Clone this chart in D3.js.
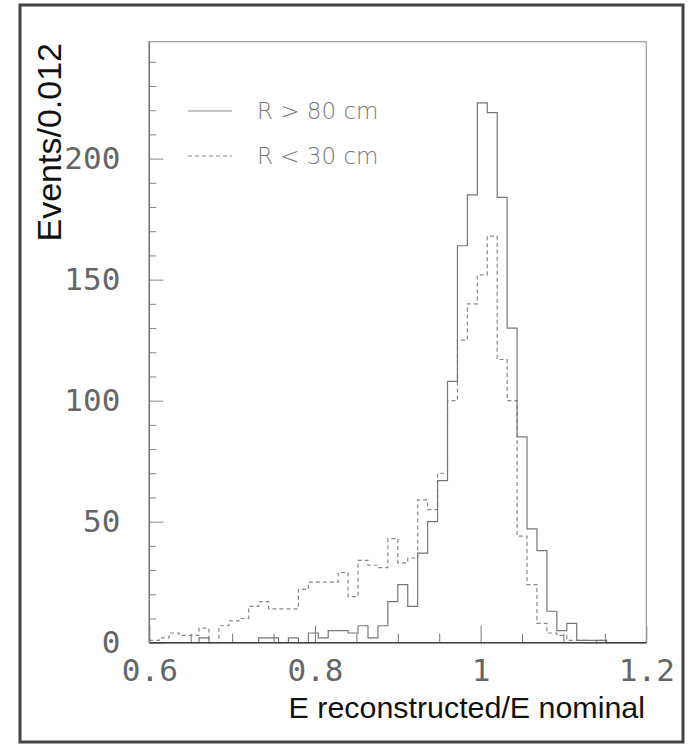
<!DOCTYPE html>
<html><head><meta charset="utf-8">
<script src="https://cdn.jsdelivr.net/npm/d3@7"></script>
<style>body{margin:0;background:#fff}svg{display:block}</style>
</head><body>
<svg id="c" width="694" height="747"></svg>
<script>
// Bin settings: 50 bins of width 0.012 from 0.6 to 1.2
const binStart = 0.6;
const binWidth = 0.012;
// R > 80 cm (solid)
const solidCounts = [0,0,0,0,0,2,0,0,0,0, 0,2,2,0,2,0,4,2,5,5, 4,7,2,7,17,24,15,37,50,67, 108,164,185,223,219,184,130,85,47,38, 13,5,8,1,1,1,0,0,0,0];
// R < 30 cm (dashed)
const dashedCounts = [1,2,4,3,3,6,0,7,9,10, 15,17,14,14,14,22,25,25,25,29, 19,34,32,31,43,33,35,59,55,70, 100,125,140,152,168,117,100,44,24,8, 4,3,1,1,0,1,0,0,0,0];
const xMajorTicks = [0.6, 0.8, 1.0, 1.2];
const xTickLabels = ["0.6", "0.8", "1", "1.2"];
const xMinorTicks = [0.65,0.7,0.75,0.85,0.9,0.95,1.05,1.1,1.15];
const yMajorTicks = [0, 50, 100, 150, 200];
const yTickLabels = ["0", "50", "100", "150", "200"];
const yMinorTicks = [10,20,30,40,60,70,80,90,110,120,130,140,160,170,180,190,210,220,230,240];
const legendLabels = ["R > 80 cm", "R < 30 cm"];
const xTitle = "E reconstructed/E nominal";
const yTitle = "Events/0.012";

const svg = d3.select("#c");
const L = 149.3, R = 646.3, T = 41.7, B = 642.7;
const x = d3.scaleLinear().domain([0.6, 1.2]).range([L, R]);
const y = d3.scaleLinear().domain([0, 248.3]).range([B, T]);

// outer border
svg.append("rect").attr("x", 20).attr("y", 5).attr("width", 663).attr("height", 737)
  .attr("fill", "none").attr("stroke", "#444").attr("stroke-width", 3);

const tickFont = "'DejaVu Sans Mono', monospace";
const tickColor = "#666";

// x axis minor ticks
svg.append("g").attr("transform", `translate(0,${B})`)
  .call(d3.axisBottom(x).tickValues(xMinorTicks).tickSizeInner(-9).tickSizeOuter(0).tickFormat(""))
  .call(g => g.select(".domain").remove())
  .call(g => g.selectAll("line").attr("stroke", "#777"));
// x axis major
const xFmt = d => xTickLabels[xMajorTicks.indexOf(d)];
svg.append("g").attr("transform", `translate(0,${B})`)
  .call(d3.axisBottom(x).tickValues(xMajorTicks).tickSizeInner(-17).tickSizeOuter(0).tickPadding(16).tickFormat(xFmt))
  .call(g => g.select(".domain").remove())
  .call(g => g.selectAll("line").attr("stroke", "#777"))
  .call(g => g.selectAll("text").attr("font-family", tickFont).attr("font-size", 31).attr("fill", tickColor));

// y axis minor
svg.append("g").attr("transform", `translate(${L},0)`)
  .call(d3.axisLeft(y).tickValues(yMinorTicks).tickSizeInner(-7).tickSizeOuter(0).tickFormat(""))
  .call(g => g.select(".domain").remove())
  .call(g => g.selectAll("line").attr("stroke", "#888"));
const yFmt = d => yTickLabels[yMajorTicks.indexOf(d)];
svg.append("g").attr("transform", `translate(${L},0)`)
  .call(d3.axisLeft(y).tickValues(yMajorTicks).tickSizeInner(-14).tickSizeOuter(0).tickPadding(29).tickFormat(yFmt))
  .call(g => g.select(".domain").remove())
  .call(g => g.selectAll("line").attr("stroke", "#888"))
  .call(g => g.selectAll("text").attr("font-family", tickFont).attr("font-size", 31).attr("fill", tickColor));

// histograms
function stepPoints(counts) {
  const pts = counts.map((c, i) => [binStart + i * binWidth, c]);
  pts.push([binStart + counts.length * binWidth, counts[counts.length - 1]]);
  return pts;
}
const line = d3.line().x(d => x(d[0])).y(d => y(d[1])).curve(d3.curveStepAfter);
svg.append("path").datum(stepPoints(dashedCounts)).attr("d", line)
  .attr("fill", "none").attr("stroke", "#888").attr("stroke-width", 1.2).attr("stroke-dasharray", "4,3");
svg.append("path").datum(stepPoints(solidCounts)).attr("d", line)
  .attr("fill", "none").attr("stroke", "#777").attr("stroke-width", 1.2);

// plot frame
svg.append("rect").attr("x", L).attr("y", T).attr("width", R - L).attr("height", B - T)
  .attr("fill", "none").attr("stroke", "#999").attr("stroke-width", 1.2);
svg.append("line").attr("x1", L).attr("x2", R).attr("y1", B).attr("y2", B).attr("stroke", "#444").attr("stroke-width", 1.5);
svg.append("line").attr("x1", L).attr("x2", L).attr("y1", T).attr("y2", B).attr("stroke", "#777").attr("stroke-width", 1.5);

// legend
const leg = svg.append("g");
const legY = [111, 156];
legendLabels.forEach((lab, i) => {
  leg.append("line").attr("x1", 188).attr("x2", 232).attr("y1", legY[i]).attr("y2", legY[i])
    .attr("stroke", "#888").attr("stroke-width", 1.2).attr("stroke-dasharray", i === 1 ? "4,3" : null);
  leg.append("text").attr("x", 257).attr("y", legY[i] + 8).text(lab)
    .attr("font-family", "'DejaVu Sans', sans-serif").attr("font-weight", 200).attr("font-size", 23).attr("fill", "#777");
});

// axis titles
svg.append("text").attr("x", 645).attr("y", 718).attr("text-anchor", "end")
  .attr("font-family", "'Liberation Sans', Arial, sans-serif").attr("font-size", 30.4).attr("fill", "#111").text(xTitle);
svg.append("text").attr("transform", "translate(61,43) rotate(-90)").attr("text-anchor", "end")
  .attr("font-family", "'Liberation Sans', Arial, sans-serif").attr("font-size", 34).attr("fill", "#111").text(yTitle);
</script>
</body></html>
